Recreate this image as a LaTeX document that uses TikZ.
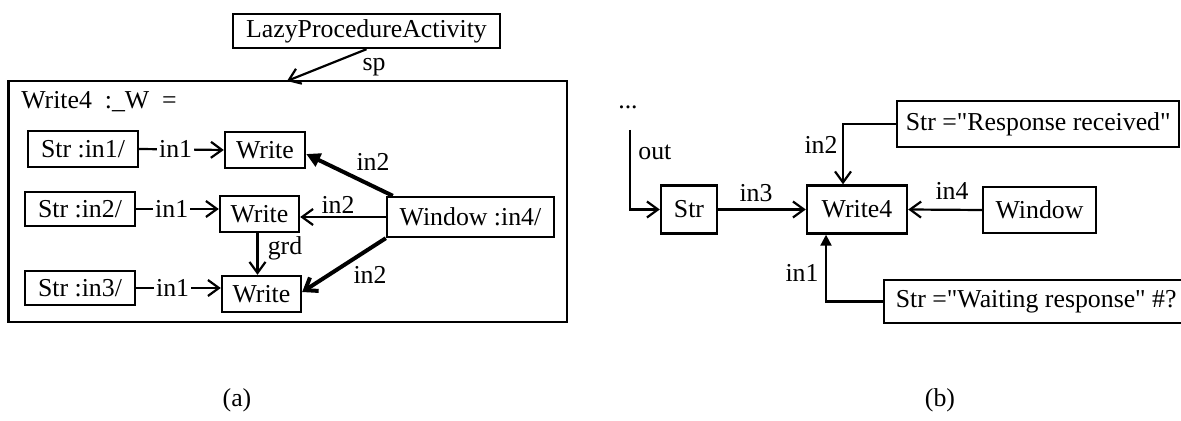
\documentclass[tikz,border=0pt]{standalone}
\usepackage{fontspec}
\setmainfont{Liberation Serif}
% same face without the TeX input mapping, so " stays a straight quote
\newfontfamily\plainserif{Liberation Serif}
\usetikzlibrary{arrows.meta}
\newcommand\sq{{\plainserif"}}
\begin{document}
\begin{tikzpicture}[x=0.5pt,y=-0.5pt,
  font=\fontsize{12.9}{15.5}\selectfont,
  box/.style={draw,line width=1.2pt,inner sep=0pt},
  link/.style={line width=1.1pt,-{Straight Barb[length=5.5pt,width=8pt]}},
  solidlink/.style={line width=1.1pt,-{Triangle[length=5.5pt,width=5.5pt]}},
  heavy/.style={line width=2pt,-{Triangle[length=7pt,width=7pt]}},
  heavybarb/.style={line width=2pt,-{Straight Barb[length=5.5pt,width=8pt]}},
  tag/.style={inner sep=1pt},
  cut/.style={tag,fill=white}]
\clip (0,0) rectangle (1181,421);
\fill[white] (0,0) rectangle (1181,421);

% ---------- (a) definition of Write4 ----------
\node[box,minimum width=133.5pt,minimum height=17pt] (lazy) at (366.5,31) {LazyProcedureActivity};
\node[box,minimum width=279.25pt,minimum height=120.5pt] (frame) at (287.75,201.5) {};
\coordinate (spin) at (287,81);
\draw[link] (lazy.south) -- (spin);
\node[tag] (sp) at (374,67) {sp};
\node[anchor=west,inner sep=0pt] (title) at (21,102) {Write4\ \ :\_W\ \ =};

\node[box,minimum width=55pt,minimum height=18pt] (str1) at (83,149) {Str :in1/};
\node[box,minimum width=40pt,minimum height=18pt] (w1) at (265,150) {Write};
\node[box,minimum width=55pt,minimum height=17pt] (str2) at (80,209) {Str :in2/};
\node[box,minimum width=39.5pt,minimum height=18pt] (w2) at (259.5,214) {Write};
\node[box,minimum width=83.5pt,minimum height=20pt] (win) at (470.5,217) {Window :in4/};
\node[box,minimum width=55pt,minimum height=17pt] (str3) at (80,288) {Str :in3/};
\node[box,minimum width=39.5pt,minimum height=18pt] (w3) at (261.5,294) {Write};

\draw[link] (str1.east) -- node[cut,pos=.43] {in1} (w1.west);
\draw[link] (str2.east) -- node[cut,pos=.43] {in1} (str2.east -| w2.west);
\draw[link] (str3.east) -- node[cut,pos=.43] {in1} (str3.east -| w3.west);

\draw[heavy] ([xshift=3.5pt]win.north west) -- ([yshift=-2pt]w1.east);
\draw[link] (win.west) -- (win.west -| w2.east);
\draw[heavybarb] (win.south west) -- ([yshift=1pt]w3.east);
\draw[link] ([xshift=-1pt]w2.south) -- ([xshift=-1pt]w2.south |- w3.north);

\node[tag] (l2a) at (373,162) {in2};
\node[tag] (l2b) at (338,205) {in2};
\node[tag] (l2c) at (370,275) {in2};
\node[tag] (grd) at (285,248) {grd};

% ---------- (b) use of Write4 ----------
\node[inner sep=0pt] (dots) at (628,107) {...};
\coordinate (outtop) at (630,130);
\node[anchor=west,tag] (out) at (636,152) {out};

\node[box,minimum width=28pt,minimum height=24pt] (str) at (689,209.5) {Str};
\node[box,minimum width=50pt,minimum height=24pt] (w4) at (857,209.5) {Write4};
\node[box,minimum width=56.5pt,minimum height=23pt] (winb) at (1039.5,210) {Window};
\node[box,anchor=west,minimum width=141pt,minimum height=22.75pt] (resp) at (896,124) {Str =\sq Response received\sq};
\node[box,anchor=west,minimum width=152pt,minimum height=21.5pt] (wait) at (883,301.5) {Str =\sq Waiting response\sq\ \#?};

\draw[link] (outtop) |- (str.west);
\draw[link] (str.east) -- (w4.west);
\draw[link] (winb.west) -- (w4.east);
\draw[link] (resp.west) -| ([xshift=-7pt]w4.north);
\draw[solidlink] (wait.west) -| ([xshift=-15.5pt]w4.south);

\node[tag] (l3) at (756,193) {in3};
\node[tag] (l4) at (952,191) {in4};
\node[tag] (l2) at (821,145) {in2};
\node[tag] (l1) at (802,273) {in1};

% ---------- captions ----------
\node (capa) at (237,400) {(a)};
\node (capb) at (940,400) {(b)};
\end{tikzpicture}
\end{document}
